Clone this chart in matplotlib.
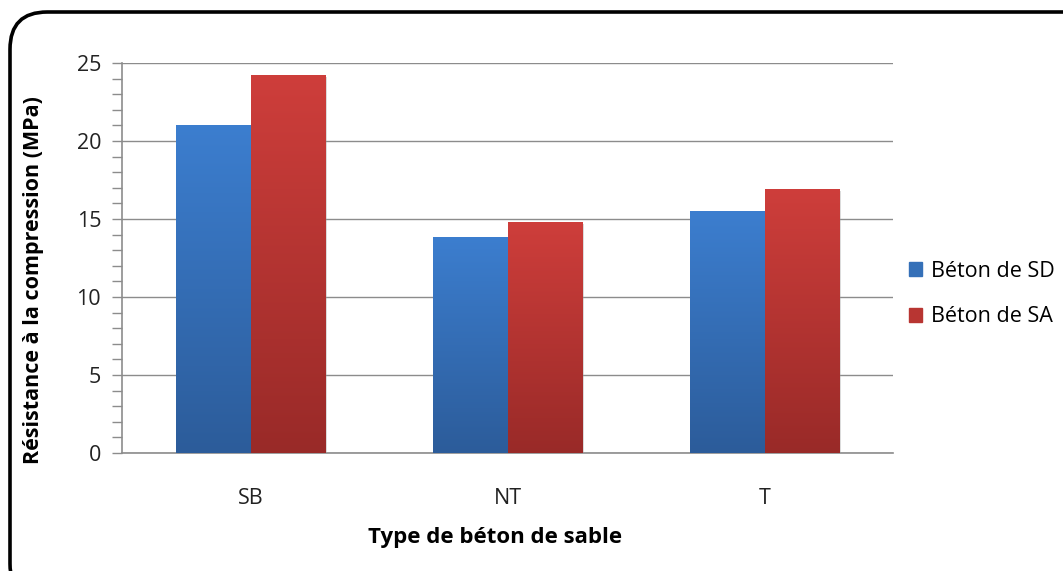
import matplotlib.pyplot as plt
import numpy as np
from matplotlib.patches import FancyBboxPatch
from matplotlib.colors import LinearSegmentedColormap
import matplotlib.patheffects as pe

categories = ['SB', 'NT', 'T']
sd_values = [21.0, 13.85, 15.5]
sa_values = [24.2, 14.8, 16.9]
series_names = ['Béton de SD', 'Béton de SA']
yticks = [0, 5, 10, 15, 20, 25]

plt.rcParams['font.family'] = ['Open Sans', 'DejaVu Sans']

W, H = 1063, 571
fig = plt.figure(figsize=(W / 100, H / 100), dpi=100)
ax = fig.add_axes([122 / W, 1 - 453 / H, 771 / W, 390 / H])

# rounded frame around the whole chart
frame = FancyBboxPatch((10 / W, -30 / H), 1.2, (559 + 30) / H,
                       boxstyle='round,pad=0,rounding_size=0.035',
                       transform=fig.transFigure, fill=False,
                       edgecolor='black', linewidth=2.6, mutation_aspect=W / H)
fig.patches.append(frame)

x = np.arange(len(categories))
w = 0.288
blue_cmap = LinearSegmentedColormap.from_list('b', ['#2c5c9a', '#3c7ecf'])
red_cmap = LinearSegmentedColormap.from_list('r', ['#992a28', '#ce3e3b'])
shadow = [pe.SimplePatchShadow(offset=(2, -1), shadow_rgbFace='#999999', alpha=0.35), pe.Normal()]

bars_sd = ax.bar(x - w / 2, sd_values, w, color='#3570b8', zorder=3, path_effects=shadow)
bars_sa = ax.bar(x + w / 2, sa_values, w, color='#b83532', zorder=3, path_effects=shadow)

# vertical gradient fill clipped to each bar
grad = np.linspace(0, 1, 256).reshape(-1, 1)
for bars, cmap in [(bars_sd, blue_cmap), (bars_sa, red_cmap)]:
    for b in bars:
        x0, y0 = b.get_x(), b.get_y()
        x1, y1 = x0 + b.get_width(), y0 + b.get_height()
        im = ax.imshow(grad, cmap=cmap, extent=[x0, x1, y0, y1], origin='lower',
                       aspect='auto', zorder=4, interpolation='bicubic')
        im.set_clip_path(b)

ax.set_xlim(-0.5, len(categories) - 0.5)
ax.set_ylim(0, 25)
ax.set_yticks(yticks)
ax.set_yticks(np.arange(0, 26, 1), minor=True)
ax.set_xticks(x)
ax.set_xticklabels(categories, fontsize=15.5, color='#222222')
ax.tick_params(axis='x', length=0, pad=25)
ax.tick_params(axis='y', which='both', length=7, color='#8c8c8c', width=1, labelsize=15.5,
               labelcolor='#222222', pad=8)
ax.grid(axis='y', which='major', color='#8c8c8c', linewidth=1, zorder=0)
for s in ['top', 'right']:
    ax.spines[s].set_visible(False)
for s in ['left', 'bottom']:
    ax.spines[s].set_color('#8c8c8c')
    ax.spines[s].set_linewidth(1.2)

ax.set_ylabel('Résistance à la compression (MPa)', fontsize=15.5, fontweight='bold')
ax.yaxis.set_label_coords(-78 / 771, (453 - 280) / 390)
fig.text(495 / W, 1 - 538 / H, 'Type de béton de sable', fontsize=16, fontweight='bold',
         ha='center', va='center')

handles = [plt.Rectangle((0, 0), 1, 1, color='#3570b8'), plt.Rectangle((0, 0), 1, 1, color='#b83532')]
fig.legend(handles, series_names, loc='upper left', bbox_to_anchor=(900 / W, 1 - 252 / H),
           frameon=False, fontsize=15.5, handlelength=0.6, handleheight=0.6,
           handletextpad=0.45, labelspacing=1.15, borderaxespad=0)

fig.savefig('out.png', dpi=100)
